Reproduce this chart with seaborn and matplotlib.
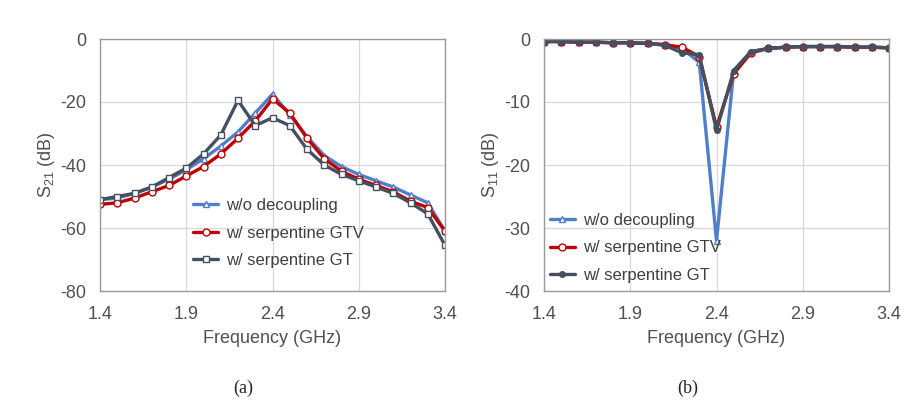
import numpy as np
import pandas as pd
import matplotlib
matplotlib.use("Agg")
import matplotlib.pyplot as plt
import seaborn as sns

# frequency points (GHz)
freq = [1.4, 1.5, 1.6, 1.7, 1.8, 1.9, 2.0, 2.1, 2.2, 2.3, 2.4,
        2.5, 2.6, 2.7, 2.8, 2.9, 3.0, 3.1, 3.2, 3.3, 3.4]

# (a) S21 (dB)
s21_wo = [-51, -50.5, -49, -47, -44.5, -41.5, -38, -34, -29.5, -23.5, -17.5,
          -24, -31, -37, -40.5, -43, -45, -47, -49.5, -52, -61]
s21_gtv = [-52.5, -52, -50.5, -48.5, -46.5, -43.5, -40.5, -36.5, -31.5, -26, -19,
           -23.5, -31.5, -38, -42, -44.5, -46.5, -48.5, -51.5, -53.5, -61]
s21_gt = [-51, -50, -49, -47, -44, -41, -36.5, -30.5, -19.5, -27.5, -25,
          -27.5, -35, -40, -43, -45, -47, -49, -52, -55.5, -65.5]

# (b) S11 (dB)
s11_wo = [-0.4, -0.4, -0.5, -0.5, -0.6, -0.6, -0.7, -0.9, -1.5, -3.7, -32,
          -5, -2, -1.5, -1.3, -1.2, -1.2, -1.2, -1.3, -1.3, -1.4]
s11_gtv = [-0.4, -0.4, -0.5, -0.5, -0.6, -0.6, -0.7, -0.9, -1.3, -2.8, -14,
           -5.5, -2.2, -1.5, -1.3, -1.2, -1.2, -1.2, -1.3, -1.3, -1.4]
s11_gt = [-0.4, -0.4, -0.5, -0.5, -0.6, -0.6, -0.7, -1.0, -2.2, -2.5, -14.5,
          -5, -2, -1.5, -1.3, -1.2, -1.2, -1.2, -1.3, -1.3, -1.4]

labels = ["w/o decoupling", "w/ serpentine GTV", "w/ serpentine GT"]
colors = ["#4f7fcb", "#c00000", "#44505e"]

sns.set_style("white")
plt.rcParams["font.family"] = ["Liberation Sans", "DejaVu Sans"]
plt.rcParams["axes.unicode_minus"] = False
plt.rcParams["mathtext.fontset"] = "custom"
plt.rcParams["mathtext.rm"] = "Liberation Sans"
plt.rcParams["mathtext.it"] = "Liberation Sans"

fig = plt.figure(figsize=(9.24, 4.2), dpi=100)
ax1 = fig.add_axes([100 / 924, 1 - 291 / 420, 345 / 924, 252 / 420])
ax2 = fig.add_axes([544 / 924, 1 - 291 / 420, 345 / 924, 252 / 420])


def draw_panel(ax, series, markers, fills, msizes, ylim, yticks, ylabel, legend_pos):
    for vals, lab, col, mk, fc, ms in zip(series, labels, colors, markers, fills, msizes):
        df = pd.DataFrame({"f": freq, "v": vals})
        sns.lineplot(data=df, x="f", y="v", ax=ax, color=col, lw=2.4,
                     marker=mk, markersize=ms, markerfacecolor=fc,
                     markeredgecolor=col, markeredgewidth=1.0, label=lab)
    ax.set_xlim(1.4, 3.4)
    ax.set_ylim(*ylim)
    ax.set_xticks([1.4, 1.9, 2.4, 2.9, 3.4])
    ax.set_xticklabels(["1.4", "1.9", "2.4", "2.9", "3.4"])
    ax.set_yticks(yticks)
    ax.set_yticklabels([str(t) for t in yticks])
    ax.grid(True, color="#d9d9d9", lw=0.9)
    for sp in ax.spines.values():
        sp.set_color("#9a9a9a")
        sp.set_linewidth(1.0)
    ax.tick_params(axis="y", length=0, labelsize=13, colors="#505050", pad=10)
    ax.tick_params(axis="x", length=0, labelsize=13, colors="#505050", pad=11)
    ax.set_xlabel("Frequency (GHz)", fontsize=13, color="#505050", labelpad=5)
    ax.set_ylabel(ylabel, fontsize=13, color="#505050", labelpad=2)
    ax.legend(loc="center left", bbox_to_anchor=legend_pos, frameon=False,
              fontsize=12, handlelength=1.5, handletextpad=0.5, borderpad=0,
              borderaxespad=0, labelspacing=0.75, labelcolor="#404040")


draw_panel(ax1, [s21_wo, s21_gtv, s21_gt], ["^", "o", "s"],
           ["white", "white", "white"], [5, 5, 5], (-80, 0),
           [0, -20, -40, -60, -80], "S$_{21}$ (dB)", (0.27, 0.23))
draw_panel(ax2, [s11_wo, s11_gtv, s11_gt], ["^", "o", "o"],
           ["white", "white", "#44505e"], [5, 5, 4], (-40, 0),
           [0, -10, -20, -30, -40], "S$_{11}$ (dB)", (0.017, 0.171))

fig.text(243 / 924, 1 - 388 / 420, "(a)", family="Liberation Serif",
         fontsize=13, ha="center", va="center")
fig.text(688 / 924, 1 - 388 / 420, "(b)", family="Liberation Serif",
         fontsize=13, ha="center", va="center")

fig.savefig("out.png", dpi=100, facecolor="white")
